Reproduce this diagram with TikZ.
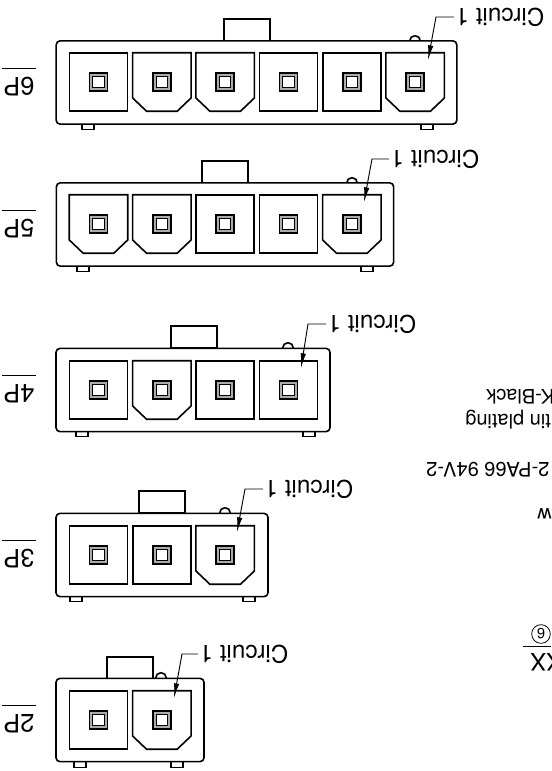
\documentclass[tikz,border=0pt]{standalone}
\usepackage{fontspec}
\setmainfont{TeX Gyre Heros}
\usetikzlibrary{arrows.meta,positioning}
\tikzset{
  outline/.style={draw,line width=1.2pt},
  termin/.style={outline,fill=white,line width=.6pt,minimum size=8.5pt,inner sep=0pt},
  term/.style={outline,fill=gray!65,minimum size=13.5pt,inner sep=0pt,label={[termin]center:}},
  cav/.style={outline,minimum size=43.5pt,inner sep=0pt,label={[term]center:}},
  cavc/.style={minimum size=43.5pt,inner sep=0pt,label={[term]center:},
    append after command={\pgfextra{\draw[line width=1.2pt,line join=miter]
      (\tikzlastnode.north west) -- (\tikzlastnode.north east)
      -- ([yshift=10pt]\tikzlastnode.south east) -- ([xshift=-10.5pt]\tikzlastnode.south east)
      -- ([xshift=10.5pt]\tikzlastnode.south west) -- ([yshift=10pt]\tikzlastnode.south west) -- cycle;}}},
  housing/.style={outline,fill=white,rounded corners=3pt,minimum height=62.5pt,inner sep=0pt},
  latch/.style={outline,minimum width=34.5pt,minimum height=16.5pt,inner sep=0pt},
  notch/.style={outline,circle,minimum size=8pt,inner sep=0pt},
  foot/.style={draw,line width=.9pt,minimum width=9pt,minimum height=7pt,inner sep=0pt},
  sizelbl/.style={rotate=180,font=\fontsize{19}{19}\selectfont,inner xsep=1pt,inner ysep=6.5pt},
  circuit/.style={rotate=180,anchor=east,font=\fontsize{18.2}{18}\selectfont,inner sep=1pt},
  note/.style={rotate=180,anchor=base east,font=\fontsize{15}{15}\selectfont,inner sep=0pt},
  lead/.style={draw,line width=.7pt,-{Latex[length=11pt,width=4pt]}}
}
\begin{document}
\begin{tikzpicture}[x=0.75pt,y=-0.75pt,node distance=47.5pt,on grid]
  \useasboundingbox (0,0) rectangle (551,771);

  \node[latch] (l6) at (247,30)  {};
  \node[notch] (n6) at (415,41)  {};
  \node[foot]  (f6a) at (88,125) {};
  \node[foot]  (f6b) at (427,125) {};
  \node[housing,minimum width=300.5pt] (b6) at (256.5,82.5) {};
  \node[cav ]  (c6a) at (98.5,82) {};
  \node[cavc]  (c6b) [right of=c6a] {};
  \node[cavc]  (c6c) [right of=c6b] {};
  \node[cav ]  (c6d) [right of=c6c] {};
  \node[cav ]  (c6e) [right of=c6d] {};
  \node[cavc]  (c6f) [right of=c6e] {};
  \node[sizelbl] (p6) at (19,86.5) {6P};
  \draw[line width=.9pt] (p6.south west) -- (p6.south east);
  \node[circuit] (a6) at (454,17) {Circuit 1};
  \coordinate (e6) at (436,17);
  \coordinate (h6) at (428,60);
  \draw[lead] (a6.east) -- (e6) -- (h6);

  \node[latch] (l5) at (225,172) {};
  \node[notch] (n5) at (352,183) {};
  \node[foot]  (f5a) at (83,267) {};
  \node[foot]  (f5b) at (367,267) {};
  \node[housing,minimum width=253pt] (b5) at (225,224.5) {};
  \node[cavc]  (c5a) at (98.5,224) {};
  \node[cavc]  (c5b) [right of=c5a] {};
  \node[cav ]  (c5c) [right of=c5b] {};
  \node[cav ]  (c5d) [right of=c5c] {};
  \node[cavc]  (c5e) [right of=c5d] {};
  \node[sizelbl] (p5) at (19,228.5) {5P};
  \draw[line width=.9pt] (p5.south west) -- (p5.south east);
  \node[circuit] (a5) at (389,159) {Circuit 1};
  \coordinate (e5) at (372,159);
  \coordinate (h5) at (364,202);
  \draw[lead] (a5.east) -- (e5) -- (h5);

  \node[latch] (l4) at (194,337) {};
  \node[notch] (n4) at (288,348) {};
  \node[foot]  (f4a) at (82,432) {};
  \node[foot]  (f4b) at (309,432) {};
  \node[housing,minimum width=205.5pt] (b4) at (193,390) {};
  \node[cav ]  (c4a) at (98.5,390) {};
  \node[cavc]  (c4b) [right of=c4a] {};
  \node[cav ]  (c4c) [right of=c4b] {};
  \node[cav ]  (c4d) [right of=c4c] {};
  \node[sizelbl] (p4) at (19,393.5) {4P};
  \draw[line width=.9pt] (p4.south west) -- (p4.south east);
  \node[circuit] (a4) at (326,324) {Circuit 1};
  \coordinate (e4) at (308,324);
  \coordinate (h4) at (301,368);
  \draw[lead] (a4.east) -- (e4) -- (h4);

  \node[latch] (l3) at (162,502) {};
  \node[notch] (n3) at (225,513) {};
  \node[foot]  (f3a) at (76,597) {};
  \node[foot]  (f3b) at (249,597) {};
  \node[housing,minimum width=159pt] (b3) at (162,555) {};
  \node[cav ]  (c3a) at (98.5,555) {};
  \node[cav ]  (c3b) [right of=c3a] {};
  \node[cavc]  (c3c) [right of=c3b] {};
  \node[sizelbl] (p3) at (19,558.5) {3P};
  \draw[line width=.9pt] (p3.south west) -- (p3.south east);
  \node[circuit] (a3) at (263,489) {Circuit 1};
  \coordinate (e3) at (245,489);
  \coordinate (h3) at (237,532);
  \draw[lead] (a3.east) -- (e3) -- (h3);

  \node[latch] (l2) at (130,668) {};
  \node[notch] (n2) at (161,678) {};
  \node[foot]  (f2a) at (80,763) {};
  \node[foot]  (f2b) at (177,763) {};
  \node[housing,minimum width=111pt] (b2) at (130,720) {};
  \node[cav ]  (c2a) at (98.5,720) {};
  \node[cavc]  (c2b) [right of=c2a] {};
  \node[sizelbl] (p2) at (19,723.5) {2P};
  \draw[line width=.9pt] (p2.south west) -- (p2.south east);
  \node[circuit] (a2) at (198,654) {Circuit 1};
  \coordinate (e2) at (182,654);
  \coordinate (h2) at (174,698);
  \draw[lead] (a2.east) -- (e2) -- (h2);

  \node[note] (d1) at (486,389) {K-Black};
  \node[note] (d2) at (465,414) {tin plating};
  \node[note] (d3) at (426,462) {2-PA66 94V-2};
  \node[note] (d4) at (537,508) {w};
  \node[outline,circle,line width=.6pt,minimum size=14pt,inner sep=0pt,rotate=180,font=\fontsize{11}{11}\selectfont] (d5) at (541,634) {6};
  \node[note,font=\fontsize{18}{18}\selectfont] (d6) at (530,653) {XX};
  \coordinate (r1) at (523,646);
  \coordinate (r2) at (551,646);
  \draw[line width=.7pt] (r1) -- (r2);
\end{tikzpicture}
\end{document}
